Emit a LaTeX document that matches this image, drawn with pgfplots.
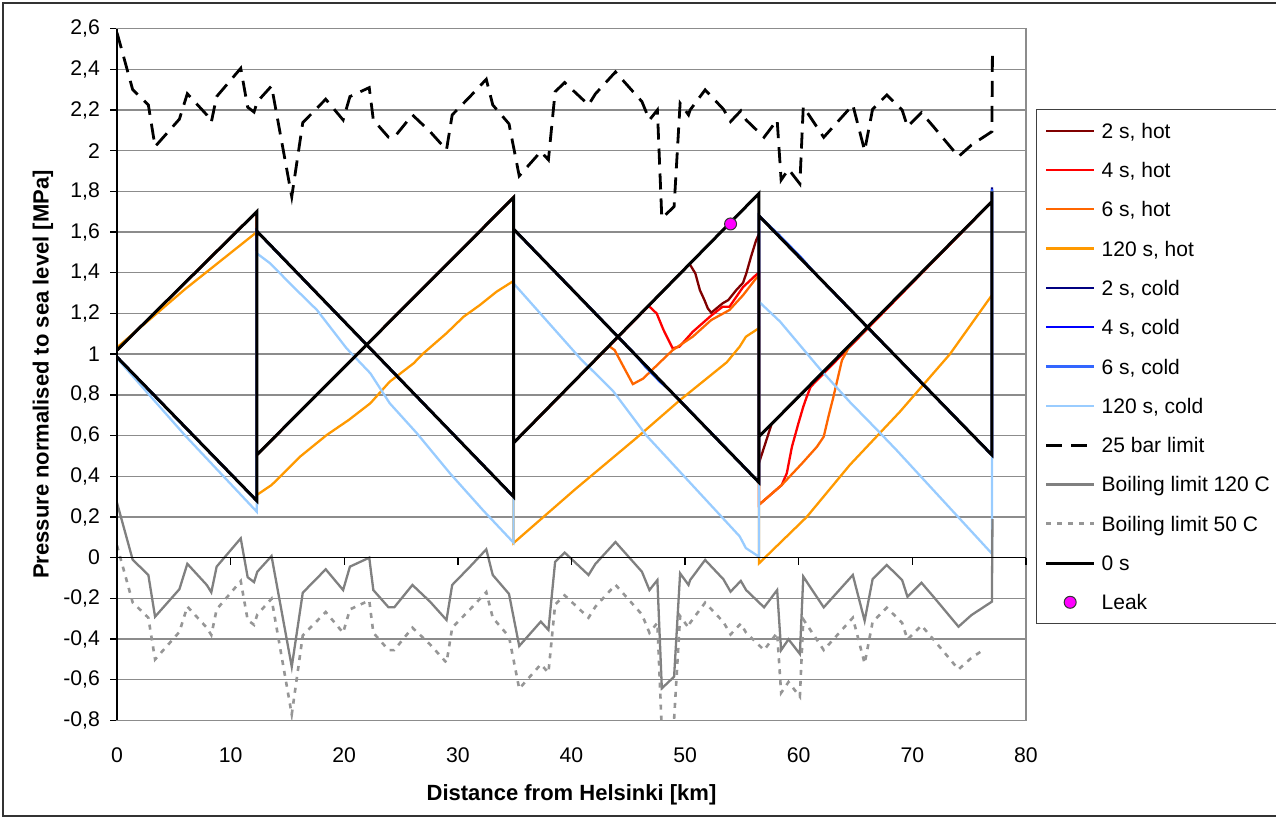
\documentclass[border=0pt]{standalone}
\usepackage{pgfplots}
\pgfplotsset{compat=1.18}
\usepackage{fontspec}
\setmainfont{Liberation Sans}
\definecolor{hotII}{HTML}{800000}
\definecolor{hotIV}{HTML}{FF0000}
\definecolor{hotVI}{HTML}{FF6600}
\definecolor{hotCXX}{HTML}{FF9900}
\definecolor{coldII}{HTML}{000080}
\definecolor{coldIV}{HTML}{0000FF}
\definecolor{coldVI}{HTML}{3366FF}
\definecolor{coldCXX}{HTML}{99CCFF}
\definecolor{boilA}{HTML}{808080}
\definecolor{boilB}{HTML}{969696}
\definecolor{gridc}{HTML}{8C8C8C}
\definecolor{leakc}{HTML}{FF00FF}
\pgfplotsset{leak legend/.style={legend image code/.code={\draw[##1] plot coordinates {(12pt,0pt)};}}}
\begin{document}
\begin{tikzpicture}
\useasboundingbox (0,0) rectangle (638pt,409.5pt);
\draw[black!80, line width=0.8pt] (640pt,1.5pt) -- (1.5pt,1.5pt) -- (1.5pt,408pt) -- (640pt,408pt);
\begin{axis}[
  at={(58.5pt,49.25pt)}, anchor=south west,
  scale only axis, width=454.5pt, height=345.95pt,
  xmin=0, xmax=80, ymin=-0.8, ymax=2.6,
  xtick={0,10,20,30,40,50,60,70,80},
  ytick={-0.8,-0.6,-0.4,-0.2,0,0.2,0.4,0.6,0.8,1,1.2,1.4,1.6,1.8,2,2.2,2.4,2.6},
  axis line style={draw=gridc, line width=0.7pt},
  ymajorgrids, grid style={draw=gridc, line width=0.7pt},
  tick align=outside, major tick length=3.5pt,
  ytick pos=left, xtick pos=bottom,
  y tick style={black, line width=0.7pt},
  x tick style={draw=none},
  /pgf/number format/use comma,
  /pgf/number format/assume math mode=true,
  /pgf/number format/1000 sep={},
  tick label style={font=\fontsize{10.6}{12}\selectfont},
  yticklabel style={xshift=-1.5pt},
  xticklabel style={yshift=-6.8pt},
  label style={font=\fontsize{11}{13}\selectfont\bfseries},
  xlabel={Distance from Helsinki [km]},
  ylabel={Pressure normalised to sea level [MPa]},
  xlabel style={at={(axis description cs:0.5,-0.1067)}, anchor=center},
  ylabel style={at={(axis description cs:-0.0814,0.5)}, anchor=center},
  clip mode=individual,
  legend cell align=left,
  legend image code/.code={\draw[#1] (0pt,0pt) -- (24pt,0pt);},
  legend style={at={(1.011,0.8838)}, anchor=north west, draw=black!75, line width=0.7pt,
    fill=white, font=\fontsize{10.5}{12}\selectfont, inner xsep=4pt, inner ysep=6.7pt,
    row sep=12.05pt, column sep=3pt,
    nodes={inner sep=0pt, text height=7.6pt, text depth=0pt}},
]
% 2 s, hot
\addplot[hotII, line width=1.15pt] coordinates {
(0,1.02) (12.3,1.70) (12.3,0.505) (34.9,1.77) (34.9,0.564) (50.4,1.443) (50.9,1.397)
(51.3,1.315) (51.7,1.266) (52.0,1.225) (52.3,1.204) (53.3,1.25) (53.8,1.266) (54.5,1.315)
(55.1,1.351) (55.4,1.40) (55.8,1.479) (56.25,1.56) (56.5,1.59) (56.5,0.465) (57.6,0.655) (77.0,1.75)};
\addlegendentry{2 s, hot}
% 4 s, hot
\addplot[hotIV, line width=1.15pt] coordinates {
(0,1.02) (12.3,1.70) (12.3,0.505) (34.9,1.77) (34.9,0.564) (46.8,1.237) (47.5,1.20) (48.1,1.119)
(48.9,1.029) (49.5,1.037) (50.67,1.11) (52.3,1.19) (53.3,1.233) (53.9,1.233) (55.1,1.33)
(56.25,1.39) (56.5,1.40) (56.5,0.26) (58.5,0.357) (58.95,0.415) (59.4,0.545) (59.97,0.66)
(60.4,0.742) (60.7,0.79) (61.05,0.84) (77.0,1.75)};
\addlegendentry{4 s, hot}
% 6 s, hot
\addplot[hotVI, line width=1.15pt] coordinates {
(0,1.02) (12.3,1.70) (12.3,0.505) (34.9,1.77) (34.9,0.564) (43.3,1.04) (43.8,1.02) (44.57,0.939)
(45.4,0.853) (46.3,0.88) (48.9,1.02) (50.67,1.086) (52.3,1.168) (53.9,1.217) (55.1,1.29)
(56.25,1.373) (56.5,1.385) (56.5,0.26) (58.5,0.357) (60.3,0.464) (61.6,0.545) (62.2,0.595)
(62.6,0.69) (63.05,0.79) (63.8,0.97) (64.5,1.043) (77.0,1.75)};
\addlegendentry{6 s, hot}
% 120 s, hot
\addplot[hotCXX, line width=1.15pt] coordinates {
(0,1.033) (6,1.32) (12.3,1.60) (12.3,0.308) (13.6,0.357) (14.5,0.406) (16.1,0.496) (18.46,0.603)
(20.4,0.677) (22.3,0.759) (24.0,0.865) (26.1,0.955) (26.96,1.004) (29.0,1.103) (30.5,1.184)
(31.95,1.242) (33.4,1.307) (34.9,1.36) (34.9,0.072) (40.3,0.335) (45.75,0.59) (49.56,0.775)
(53.66,0.96) (54.8,1.037) (55.35,1.086) (56.5,1.128) (56.5,-0.028) (60.7,0.2) (64.5,0.456)
(68.9,0.717) (73.3,1.0) (77.0,1.29)};
\addlegendentry{120 s, hot}
% 2 s, cold
\addplot[coldII, line width=1.15pt] coordinates {
(0,0.986) (12.3,0.28) (12.3,1.605) (34.9,0.30) (34.9,1.615) (56.5,0.37) (56.5,1.68) (77.0,0.505) (77.0,1.82)};
\addlegendentry{2 s, cold}
% 4 s, cold
\addplot[coldIV, line width=1.15pt] coordinates {
(0,0.986) (12.3,0.28) (12.3,1.605) (34.9,0.30) (34.9,1.615) (45.5,1.005) (46.5,0.944) (47.8,0.869)
(48.6,0.826) (56.5,0.37) (56.5,1.68) (58.2,1.586) (60.2,1.472) (61.5,1.393) (77.0,0.505) (77.0,1.81)};
\addlegendentry{4 s, cold}
% 6 s, cold
\addplot[coldVI, line width=1.15pt] coordinates {
(0,0.986) (12.3,0.28) (12.3,1.605) (34.9,0.30) (34.9,1.615) (45.5,1.005) (46.5,0.938) (47.8,0.863)
(48.6,0.826) (56.5,0.37) (56.5,1.68) (58.2,1.59) (60.2,1.476) (61.5,1.393) (77.0,0.505) (77.0,1.81)};
\addlegendentry{6 s, cold}
% 120 s, cold
\addplot[coldCXX, line width=1.15pt] coordinates {
(0,0.98) (6,0.60) (12.3,0.226) (12.3,1.496) (13.47,1.447) (15.5,1.332) (17.6,1.217) (20.2,1.029)
(22.3,0.906) (24.0,0.759) (26.4,0.611) (29.3,0.415) (32.2,0.234) (34.9,0.074) (34.9,1.348)
(40.76,0.98) (43.7,0.816) (46.6,0.60) (54.8,0.105) (55.35,0.047) (56.5,0.005) (56.5,1.258)
(58.36,1.16) (61.9,0.925) (64.5,0.765) (66.9,0.628) (68.6,0.529) (77.0,0.02) (77.0,1.80)};
\addlegendentry{120 s, cold}
% 25 bar limit
\addplot[black, line width=1.4pt, dash pattern=on 8pt off 4.5pt] coordinates {
(0,2.58) (1.38,2.30) (2.76,2.225) (3.35,2.02) (5.49,2.155) (6.19,2.28) (7.9,2.176) (8.3,2.14)
(8.77,2.266) (10.89,2.405) (11.5,2.214) (12.06,2.19) (12.35,2.241) (13.6,2.318) (15.38,1.774)
(16.35,2.138) (18.37,2.253) (19.9,2.151) (20.5,2.266) (22.2,2.31) (22.56,2.151) (23.9,2.066)
(24.4,2.066) (26.0,2.176) (27.55,2.094) (29.0,2.004) (29.5,2.176) (31.07,2.266) (32.5,2.351)
(33.07,2.225) (34.5,2.132) (35.4,1.876) (37.3,1.996) (37.97,1.955) (38.56,2.29) (39.4,2.335)
(41.5,2.225) (42.1,2.279) (43.87,2.387) (46.2,2.241) (46.86,2.151) (47.56,2.20) (47.95,1.668)
(49.03,1.725) (49.56,2.233) (50.3,2.176) (50.44,2.20) (51.76,2.299) (53.37,2.204) (54.0,2.143)
(54.9,2.196) (55.37,2.151) (56.95,2.066) (58.1,2.151) (58.45,1.856) (59.1,1.909) (60.1,1.837)
(60.4,2.217) (62.2,2.066) (64.76,2.225) (65.8,2.00) (66.5,2.204) (67.75,2.274) (69.1,2.20)
(69.57,2.118) (70.8,2.187) (71.86,2.118) (74.06,1.971) (75.2,2.028) (77.0,2.094) (77.05,2.50)};
\addlegendentry{25 bar limit}
% Boiling limit 120 C
\addplot[boilA, line width=1.15pt] coordinates {
(0,0.27) (1.38,-0.01) (2.76,-0.085) (3.35,-0.29) (5.49,-0.155) (6.19,-0.03) (7.9,-0.134) (8.3,-0.17)
(8.77,-0.044) (10.89,0.095) (11.5,-0.096) (12.06,-0.12) (12.35,-0.069) (13.6,0.008) (15.38,-0.536)
(16.35,-0.172) (18.37,-0.057) (19.9,-0.159) (20.5,-0.044) (22.2,0.0) (22.56,-0.159) (23.9,-0.244)
(24.4,-0.244) (26.0,-0.134) (27.55,-0.216) (29.0,-0.306) (29.5,-0.134) (31.07,-0.044) (32.5,0.041)
(33.07,-0.085) (34.5,-0.178) (35.4,-0.434) (37.3,-0.314) (37.97,-0.355) (38.56,-0.02) (39.4,0.025)
(41.5,-0.085) (42.1,-0.031) (43.87,0.077) (46.2,-0.069) (46.86,-0.159) (47.56,-0.11) (47.95,-0.642)
(49.03,-0.585) (49.56,-0.077) (50.3,-0.134) (50.44,-0.11) (51.76,-0.011) (53.37,-0.106) (54.0,-0.167)
(54.9,-0.114) (55.37,-0.159) (56.95,-0.244) (58.1,-0.159) (58.45,-0.454) (59.1,-0.401) (60.1,-0.473)
(60.4,-0.093) (62.2,-0.244) (64.76,-0.085) (65.8,-0.31) (66.5,-0.106) (67.75,-0.036) (69.1,-0.11)
(69.57,-0.192) (70.8,-0.123) (71.86,-0.192) (74.06,-0.339) (75.2,-0.282) (77.0,-0.216) (77.05,0.19)};
\addlegendentry{Boiling limit 120 C}
% Boiling limit 50 C
\addplot[boilB, line width=1.3pt, dash pattern=on 2.5pt off 3pt] coordinates {
(0,0.06) (1.38,-0.22) (2.76,-0.295) (3.35,-0.50) (5.49,-0.365) (6.19,-0.24) (7.9,-0.344) (8.3,-0.38)
(8.77,-0.254) (10.89,-0.115) (11.5,-0.306) (12.06,-0.33) (12.35,-0.279) (13.6,-0.202) (15.38,-0.77)
(16.35,-0.382) (18.37,-0.267) (19.9,-0.369) (20.5,-0.254) (22.2,-0.21) (22.56,-0.369) (23.9,-0.454)
(24.4,-0.454) (26.0,-0.344) (27.55,-0.426) (29.0,-0.516) (29.5,-0.344) (31.07,-0.254) (32.5,-0.169)
(33.07,-0.295) (34.5,-0.388) (35.4,-0.644) (37.3,-0.524) (37.97,-0.565) (38.56,-0.23) (39.4,-0.185)
(41.5,-0.295) (42.1,-0.241) (43.87,-0.133) (46.2,-0.279) (46.86,-0.369) (47.56,-0.32) (47.95,-0.852)
(49.03,-0.795) (49.56,-0.287) (50.3,-0.344) (50.44,-0.32) (51.76,-0.221) (53.37,-0.316) (54.0,-0.377)
(54.9,-0.324) (55.37,-0.369) (56.95,-0.454) (58.1,-0.369) (58.45,-0.664) (59.1,-0.611) (60.1,-0.683)
(60.4,-0.303) (62.2,-0.454) (64.76,-0.295) (65.8,-0.52) (66.5,-0.316) (67.75,-0.246) (69.1,-0.32)
(69.57,-0.402) (70.8,-0.333) (71.86,-0.402) (74.06,-0.549) (75.2,-0.492) (76.2,-0.455)};
\addlegendentry{Boiling limit 50 C}
% 0 s
\addplot[black, line width=1.5pt] coordinates {
(0,1.02) (12.3,1.70) (12.3,0.505) (34.9,1.77) (34.9,0.564) (56.5,1.79) (56.5,0.595) (77.0,1.75)
(77.0,1.80) (77.0,0.505) (56.5,1.68) (56.5,0.37) (34.9,1.615) (34.9,0.30) (12.3,1.605) (12.3,0.28) (0,0.986)};
\addlegendentry{0 s}
% Leak
\addplot[only marks, mark=*, mark size=3pt, mark options={fill=leakc, draw=black!80, line width=0.5pt},
  leak legend] coordinates {(54.0,1.64)};
\addlegendentry{Leak}
% axis decorations
\draw[black, line width=0.7pt] (rel axis cs:0,0) -- (rel axis cs:0,1);
\draw[black, line width=0.7pt] (axis cs:0,0) -- (axis cs:80,0);
\draw[black, line width=0.7pt] (axis cs:0,0) -- ++(0pt,-3.5pt);
\draw[black, line width=0.7pt] (axis cs:10,0) -- ++(0pt,-3.5pt);
\draw[black, line width=0.7pt] (axis cs:20,0) -- ++(0pt,-3.5pt);
\draw[black, line width=0.7pt] (axis cs:30,0) -- ++(0pt,-3.5pt);
\draw[black, line width=0.7pt] (axis cs:40,0) -- ++(0pt,-3.5pt);
\draw[black, line width=0.7pt] (axis cs:50,0) -- ++(0pt,-3.5pt);
\draw[black, line width=0.7pt] (axis cs:60,0) -- ++(0pt,-3.5pt);
\draw[black, line width=0.7pt] (axis cs:70,0) -- ++(0pt,-3.5pt);
\draw[black, line width=0.7pt] (axis cs:80,0) -- ++(0pt,-3.5pt);
\end{axis}
\end{tikzpicture}
\end{document}
